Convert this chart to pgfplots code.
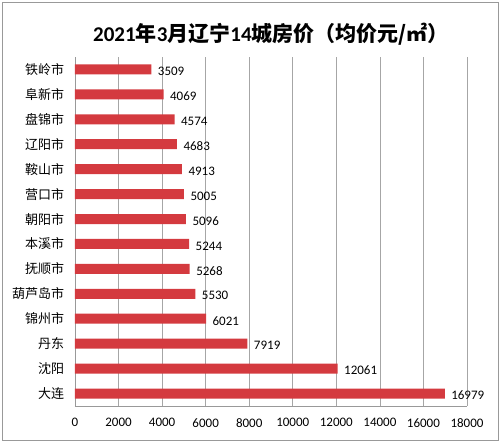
\documentclass[border=0pt]{standalone}
\usepackage{pgfplots}
\pgfplotsset{compat=1.18}
\usepackage{fontspec}
\setmainfont{Carlito}
\newfontfamily\cjk{Noto Sans CJK SC}
\definecolor{barred}{HTML}{D43A3F}
\begin{document}
\begin{tikzpicture}
\path (-75pt,-36pt) rectangle (426pt,406pt);
\draw[gray!80, line width=0.8pt] (-73pt,-34pt) rectangle (423pt,404pt);
\begin{axis}[
  scale only axis,
  width=392pt, height=349pt,
  xbar, bar width=10pt,
  xmin=0, xmax=18000,
  ymin=-0.5, ymax=13.5,
  xtick={0,2000,...,18000},
  ytick={0,...,13},
  yticklabels={大连,沈阳,丹东,锦州市,葫芦岛市,抚顺市,本溪市,朝阳市,营口市,鞍山市,辽阳市,盘锦市,阜新市,铁岭市},
  yticklabel style={font=\cjk\fontsize{13}{14}\selectfont, xshift=-3pt},
  xticklabel style={font=\fontsize{13}{14}\selectfont, yshift=-9pt},
  /pgf/number format/assume math mode=true,
  /pgf/number format/1000 sep={},
  scaled x ticks=false,
  xmajorgrids, major grid style={gray!70, line width=0.6pt},
  axis line style={gray!80},
  axis x line*=bottom, axis y line*=left,
  tick style={draw=none},
  nodes near coords,
  every node near coord/.append style={font=\fontsize{13}{14}\selectfont, anchor=west, xshift=3pt, yshift=-2pt, text=black},
  clip=false,
  title={\bfseries\fontsize{21}{24}\selectfont 2021{\cjk 年}3{\cjk 月辽宁}14{\cjk 城房价（均价元/㎡）}},
  title style={yshift=2pt},
]
\addplot[fill=barred, draw=none] coordinates {
(16979,0) (12061,1) (7919,2) (6021,3) (5530,4) (5268,5) (5244,6) (5096,7) (5005,8) (4913,9) (4683,10) (4574,11) (4069,12) (3509,13)
};
\end{axis}
\end{tikzpicture}
\end{document}
